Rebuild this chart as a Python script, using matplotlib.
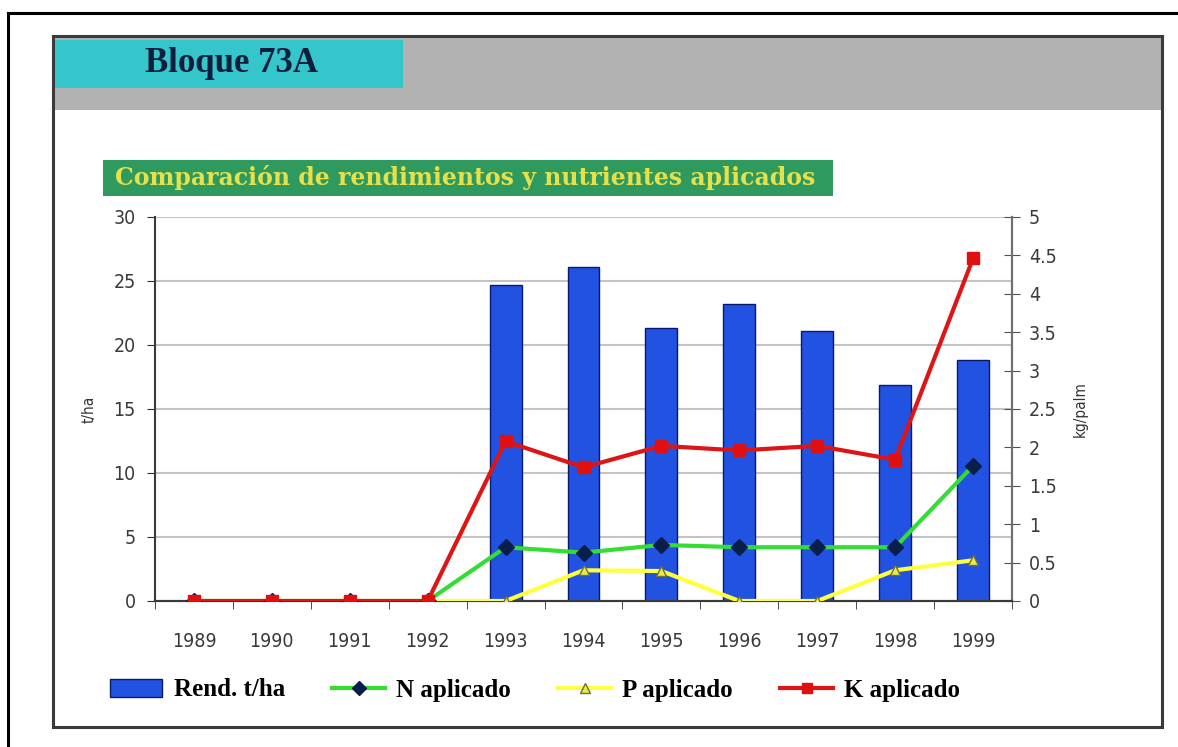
import matplotlib as mpl
mpl.use('Agg')
import matplotlib.pyplot as plt
import numpy as np
from matplotlib.patches import Rectangle, Patch
from matplotlib.lines import Line2D

# data
years = ['1989', '1990', '1991', '1992', '1993', '1994', '1995', '1996', '1997', '1998', '1999']
rend = [0, 0, 0, 0, 24.7, 26.1, 21.3, 23.2, 21.1, 16.9, 18.8]
n_apl = [0, 0, 0, 0, 0.70, 0.63, 0.73, 0.70, 0.70, 0.70, 1.76]
p_apl = [0, 0, 0, 0, 0, 0.40, 0.39, 0, 0, 0.40, 0.53]
k_apl = [0, 0, 0, 0, 2.08, 1.74, 2.02, 1.96, 2.02, 1.84, 4.46]

W, H = 1178, 747
def fx(x): return x / W
def fy(y): return 1 - y / H

fig = plt.figure(figsize=(11.78, 7.47), dpi=100)
fig.patch.set_facecolor('white')

# frames and banners
fig.add_artist(Line2D([fx(8), fx(8)], [fy(13), fy(760)], color='black', lw=2.2, transform=fig.transFigure))
fig.add_artist(Line2D([fx(8), fx(1190)], [fy(13), fy(13)], color='black', lw=2.2, transform=fig.transFigure))
fig.add_artist(Rectangle((fx(54), fy(110)), fx(1161) - fx(54), fy(37) - fy(110),
                         facecolor='#b2b2b2', edgecolor='none', transform=fig.transFigure))
fig.add_artist(Rectangle((fx(55), fy(88)), fx(403) - fx(55), fy(40) - fy(88),
                         facecolor='#35c6cc', edgecolor='none', transform=fig.transFigure))
fig.add_artist(Rectangle((fx(53), fy(727)), fx(1162) - fx(53), fy(36) - fy(727),
                         facecolor='none', edgecolor='#3a3a3a', lw=2.2, transform=fig.transFigure))
fig.text(fx(145), fy(64), 'Bloque 73A', family='Liberation Serif', weight='bold', size=25,
         color='#0f1e3c', va='center', ha='left')
fig.add_artist(Rectangle((fx(103), fy(196)), fx(833) - fx(103), fy(160) - fy(196),
                         facecolor='#2e9a5e', edgecolor='none', transform=fig.transFigure))
fig.text(fx(115), fy(178), 'Comparación de rendimientos y nutrientes aplicados',
         family='DejaVu Serif', weight='bold', size=17, color='#e6e04a',
         va='center', ha='left')

ax = fig.add_axes([fx(155), fy(601), fx(1012) - fx(155), fy(217) - fy(601)])
ax2 = ax.twinx()
ax.set_zorder(1)
ax2.set_zorder(2)
ax2.patch.set_visible(False)

x = np.arange(len(years))
ax.bar(x, rend, width=0.41, color='#2152e2', edgecolor='#0a1a6a', linewidth=1.0, zorder=3)
ax.set_ylim(0, 30)
ax.set_yticks(np.arange(0, 31, 5))
ax.set_xlim(-0.5, len(years) - 0.5)
ax.set_xticks(x)
ax.set_xticklabels(years)
ax.set_xticks(np.arange(-0.5, len(years), 1), minor=True)
ax.tick_params(axis='x', which='major', length=0, pad=22)
ax.tick_params(axis='x', which='minor', length=6, direction='out', color='#303030')
ax.tick_params(axis='y', length=6, direction='out', color='#303030', pad=8)
ax.grid(axis='y', color='#c4c4c4', lw=1.5, zorder=0)
ax.set_ylabel('t/ha', family='DejaVu Sans', stretch='condensed', size=11, color='#333333', labelpad=12)

ax2.plot(x, p_apl, color='#ffff40', lw=3, marker='^', ms=7, mfc='#e8e850', mec='#707030', zorder=3)
ax2.plot(x, n_apl, color='#33dd33', lw=3, marker='D', ms=8, mfc='#0a1e4a', mec='#0a1e4a', zorder=4)
ax2.plot(x, k_apl, color='#dd1515', lw=3, marker='s', ms=8, mfc='#e01010', mec='#e01010', zorder=5)
ax2.set_ylim(0, 5)
ax2.set_yticks(np.arange(0, 5.01, 0.5))
ax2.set_yticklabels(['0', '0.5', '1', '1.5', '2', '2.5', '3', '3.5', '4', '4.5', '5'])
ax2.tick_params(axis='y', length=12, direction='inout', color='#505050', pad=6)
ax2.set_ylabel('kg/palm', family='DejaVu Sans', stretch='condensed', size=11, color='#333333',
               rotation=90, labelpad=12)

for a in (ax, ax2):
    a.spines['top'].set_visible(False)
    for side in ('left', 'right', 'bottom'):
        a.spines[side].set_color('#3a3a3a')
        a.spines[side].set_linewidth(1.5)
    for lab in a.get_xticklabels() + a.get_yticklabels():
        lab.set_family('DejaVu Sans')
        lab.set_stretch('condensed')
        lab.set_size(14)
        lab.set_color('#3a3a3a')
ax2.spines['left'].set_visible(False)
ax2.spines['right'].set_color('#707070')

handles = [
    Patch(facecolor='#2152e2', edgecolor='#0a1a6a'),
    Line2D([], [], color='#33dd33', lw=3, marker='D', ms=7, mfc='#0a1e4a', mec='#0a1e4a'),
    Line2D([], [], color='#ffff40', lw=3, marker='^', ms=7, mfc='#e8e850', mec='#707030'),
    Line2D([], [], color='#dd1515', lw=3, marker='s', ms=7, mfc='#e01010', mec='#e01010'),
]
labels = ['Rend. t/ha', 'N aplicado', 'P aplicado', 'K aplicado']
fig.legend(handles, labels, loc='center', bbox_to_anchor=(fx(535), fy(690)), ncol=4,
           frameon=False, numpoints=1, handlelength=2.1, handletextpad=0.45, columnspacing=1.9,
           prop={'family': 'Liberation Serif', 'weight': 'bold', 'size': 18})

fig.savefig('out.png', dpi=100)
